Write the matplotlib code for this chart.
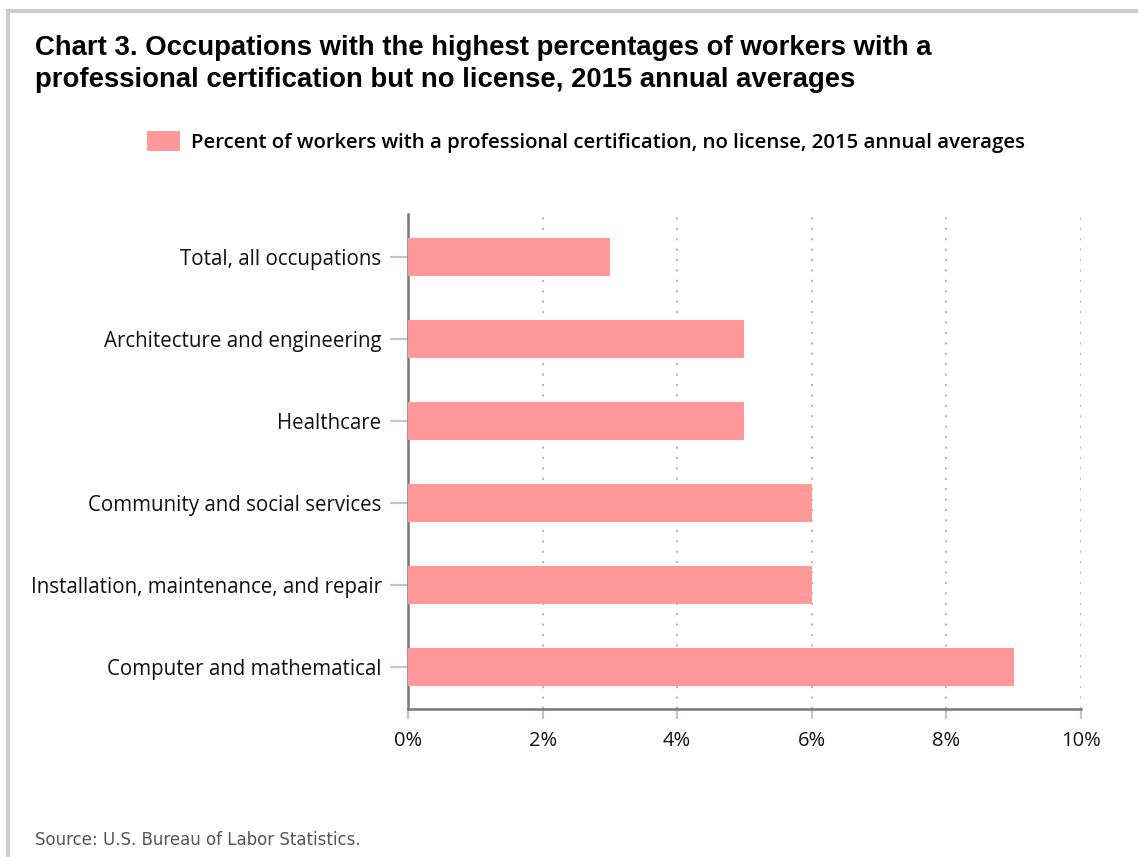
import matplotlib
matplotlib.use("Agg")
import matplotlib.pyplot as plt
from matplotlib.lines import Line2D
from matplotlib.patches import Patch
from matplotlib.ticker import FuncFormatter

######## Dados ########
ocupacoes = [
    "Total, all occupations",
    "Architecture and engineering",
    "Healthcare",
    "Community and social services",
    "Installation, maintenance, and repair",
    "Computer and mathematical",
]
percentuais = [3, 5, 5, 6, 6, 9]
ticks_x = [0, 2, 4, 6, 8, 10]

cor_barra = "#FF9999"
fonte = "Open Sans"

######## Figura ########
fig = plt.figure(figsize=(11.38, 8.57), dpi=100)
ax = fig.add_axes([0.3585, 0.1727, 0.5914, 0.5776])

posicoes = list(range(len(ocupacoes)))
ax.barh(posicoes, percentuais, height=0.46, color=cor_barra, zorder=3)

ax.set_ylim(5.51, -0.52)
ax.set_xlim(0, 10)
ax.set_yticks(posicoes)
ax.set_yticklabels(ocupacoes, fontsize=14.8, family=fonte, color="#111111")
ax.set_xticks(ticks_x)
ax.xaxis.set_major_formatter(FuncFormatter(lambda v, p: f"{v:.0f}%"))
for lbl in ax.get_xticklabels():
    lbl.set_fontsize(14.5)
    lbl.set_family(fonte)
    lbl.set_color("#111111")

ax.tick_params(axis="y", length=13, color="#b8c8dc", width=1.5, pad=6)
ax.tick_params(axis="x", length=7, color="#b8c8dc", width=1.5, pad=9)

ax.grid(axis="x", linestyle=(0, (1, 4)), color="#b8b8b8", linewidth=1.5, zorder=0)
for s in ["top", "right"]:
    ax.spines[s].set_visible(False)
ax.spines["left"].set_color("#777777")
ax.spines["left"].set_linewidth(1.8)
ax.spines["bottom"].set_color("#777777")
ax.spines["bottom"].set_linewidth(1.8)

######## Títulos e legenda ########
fig.text(35 / 1138, 1 - 64 / 857,
         "Chart 3. Occupations with the highest percentages of workers with a\n"
         "professional certification but no license, 2015 annual averages",
         fontsize=19.8, fontweight="bold", family="Liberation Sans",
         va="center", ha="left", linespacing=1.26)

handle = Patch(facecolor=cor_barra, edgecolor="none")
fig.legend([handle], ["Percent of workers with a professional certification, no license, 2015 annual averages"],
           loc="center", bbox_to_anchor=(586 / 1138, 1 - 142 / 857), frameon=False,
           prop={"family": fonte, "size": 14.7, "weight": "semibold"},
           handlelength=1.57, handleheight=1.13, handletextpad=0.54)

fig.text(35 / 1138, 1 - 840 / 857, "Source: U.S. Bureau of Labor Statistics.",
         fontsize=12, family="DejaVu Sans", color="#555555", va="center", ha="left")

# moldura cinza
fig.add_artist(Line2D([8 / 1138, 8 / 1138], [0, 1 - 11 / 857], color="#cccccc", linewidth=3,
                      transform=fig.transFigure))
fig.add_artist(Line2D([8 / 1138, 1], [1 - 11 / 857, 1 - 11 / 857], color="#cccccc", linewidth=3,
                      transform=fig.transFigure))

fig.savefig("out.png", dpi=100)
